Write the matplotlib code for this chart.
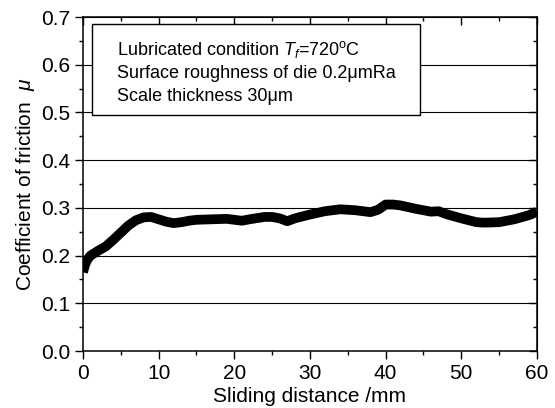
import numpy as np
import matplotlib
matplotlib.use('Agg')
import matplotlib.pyplot as plt
from matplotlib.ticker import MultipleLocator
from matplotlib.patches import Rectangle

plt.rcParams['font.family'] = ['Liberation Sans', 'DejaVu Sans']
plt.rcParams['mathtext.fontset'] = 'custom'
plt.rcParams['mathtext.rm'] = 'Liberation Sans'
plt.rcParams['mathtext.it'] = 'Liberation Sans:italic'

# sliding distance (mm) and friction coefficient
distance = [0, 0.3, 0.6, 1, 1.5, 2, 3, 4, 5, 6, 7, 8, 9, 10, 11, 12, 13, 14, 15,
            17, 19, 20, 21, 22, 24, 25, 26, 27, 28, 30, 32, 34, 36, 38, 39, 40,
            41, 42, 44, 46, 47, 48, 50, 52, 53, 55, 57, 59, 60]
mu = [0.165, 0.182, 0.192, 0.2, 0.205, 0.21, 0.219, 0.233, 0.248, 0.263, 0.274,
      0.28, 0.281, 0.276, 0.271, 0.268, 0.27, 0.273, 0.275, 0.276, 0.277, 0.275,
      0.273, 0.276, 0.281, 0.281, 0.278, 0.272, 0.278, 0.286, 0.293, 0.297,
      0.295, 0.291, 0.296, 0.307, 0.307, 0.305, 0.298, 0.292, 0.293, 0.287,
      0.278, 0.27, 0.269, 0.27, 0.276, 0.285, 0.292]

note_lines = ['Lubricated condition $T_f$=720$^{\\rm o}$C',
              'Surface roughness of die 0.2\u03bcmRa',
              'Scale thickness 30\u03bcm']

fig = plt.figure(figsize=(5.55, 4.08), dpi=100)
ax = fig.add_axes([0.1495, 0.1397, 0.818, 0.8186])

for yv in [0.1, 0.2, 0.3, 0.4, 0.5, 0.6]:
    ax.axhline(yv, color='black', lw=0.8, zorder=1)

ax.plot(distance, mu, color='black', lw=7, solid_capstyle='butt', zorder=2)

ax.set_xlim(0, 60)
ax.set_ylim(0, 0.7)
ax.xaxis.set_major_locator(MultipleLocator(10))
ax.xaxis.set_minor_locator(MultipleLocator(5))
ax.yaxis.set_major_locator(MultipleLocator(0.1))
ax.yaxis.set_minor_locator(MultipleLocator(0.05))
ax.yaxis.set_major_formatter(lambda v, p: f'{v:.1f}')
ax.tick_params(which='both', direction='out', labelsize=15, pad=3)
ax.tick_params(which='major', length=6, width=1.0)
ax.tick_params(which='minor', length=3, width=1.0)
for s in ax.spines.values():
    s.set_linewidth(1.1)

# top and right: inward ticks, no labels
top = ax.secondary_xaxis('top')
top.xaxis.set_major_locator(MultipleLocator(10))
top.xaxis.set_minor_locator(MultipleLocator(5))
top.tick_params(which='both', direction='in', labeltop=False, width=1.0)
top.tick_params(which='major', length=6)
top.tick_params(which='minor', length=3)
right = ax.secondary_yaxis('right')
right.yaxis.set_major_locator(MultipleLocator(0.1))
right.yaxis.set_minor_locator(MultipleLocator(0.05))
right.tick_params(which='both', direction='in', labelright=False, width=1.0)
right.tick_params(which='major', length=6)
right.tick_params(which='minor', length=3)

ax.set_xlabel('Sliding distance /mm', fontsize=15, labelpad=3)
ax.set_ylabel(r'Coefficient of friction  $\mu$', fontsize=15, labelpad=3)

ax.add_patch(Rectangle((0.02, 0.707), 0.722, 0.271, transform=ax.transAxes,
                       fc='white', ec='black', lw=1.0, zorder=3))
for line, yb in zip(note_lines, [0.886, 0.817, 0.749]):
    ax.text(0.075, yb, line, transform=ax.transAxes, fontsize=13,
            va='baseline', ha='left', zorder=4)

fig.savefig('out.png', dpi=100)
